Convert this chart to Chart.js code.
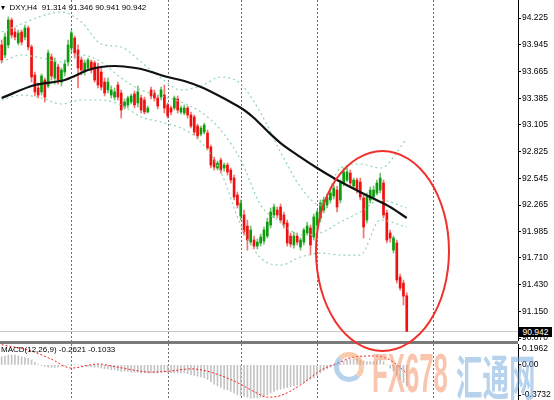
<!DOCTYPE html>
<html>
<head>
<meta charset="utf-8">
<script src="https://cdn.jsdelivr.net/npm/chart.js@4.4.0/dist/chart.umd.min.js"></script>
<style>
  body { margin: 0; width: 554px; height: 400px; overflow: hidden; background: #fff; position: relative; font-family: "Liberation Sans", Arial, sans-serif; }
  canvas { position: absolute; left: 0; }
  #main { top: 0; }
  #macd { top: 344px; }
  #panelSep { position: absolute; left: 0; top: 341px; width: 518px; height: 3px; background: #7a7a7a; }
  .txt { position: absolute; font-size: 8px; color: #000; white-space: nowrap; }
  #title { left: 1px; top: 3px; }
  #macdTitle { left: 1px; top: 345px; font-size: 8px; }
  #priceBox { position: absolute; left: 519px; top: 327px; width: 33px; height: 10px; background: #000; color: #fff; font-size: 8.5px; line-height: 10px; text-align: center; }
  #ellipse { position: absolute; left: 315px; top: 150px; width: 135px; height: 202px; border: 2.5px solid #f0302c; border-radius: 50%; box-sizing: border-box; }
  .wm { position: absolute; top: 340px; font-weight: bold; white-space: nowrap; transform-origin: 0 0; }
  #wmLogo { position: absolute; left: 334px; top: 352px; width: 30px; height: 30px; border-radius: 50%; border: 5px solid rgba(244,150,90,0.5); border-left-color: rgba(110,165,220,0.5); border-bottom-color: rgba(110,165,220,0.5); box-sizing: border-box; }
  #wmFx { left: 372px; font-size: 56px; color: rgba(245,140,95,0.5); transform: scale(0.46, 1); }
  #wmCn { left: 456px; top: 340px; font-size: 50px; color: rgba(110,165,220,0.5); font-family: "Noto Sans CJK SC", sans-serif; transform: scale(0.53, 0.95); }
</style>
</head>
<body>
<canvas id="main" width="554" height="341"></canvas>
<div id="panelSep"></div>
<canvas id="macd" width="554" height="56"></canvas>
<div id="title" class="txt">&#9662;&nbsp; DXY,H4&nbsp; 91.314 91.346 90.941 90.942</div>
<div id="macdTitle" class="txt">MACD(12,26,9) -0.2621 -0.1033</div>
<div id="priceBox">90.942</div>
<div id="ellipse"></div>
<div id="wmLogo"></div>
<div id="wmFx" class="wm">FX678</div>
<div id="wmCn" class="wm">汇通网</div>
<script>
// ---- data ----
const slotCount = 156; // candles + empty shift area on the right

const candleOpen = [93.943,93.838,93.943,94.204,94.078,93.964,94.078,94.026,94.120,93.922,
  93.628,93.492,93.450,93.575,93.513,93.817,93.596,93.712,93.554,93.659,
  93.764,93.911,94.015,93.890,93.785,93.659,93.701,93.764,93.754,93.712,
  93.659,93.554,93.471,93.418,93.397,93.523,93.439,93.293,93.314,93.345,
  93.429,93.335,93.387,93.366,93.240,93.471,93.439,93.387,93.397,93.418,
  93.314,93.282,93.282,93.376,93.240,93.230,93.282,93.209,93.188,93.093,
  93.009,93.030,93.020,92.873,92.737,92.653,92.737,92.653,92.684,92.632,
  92.548,92.370,92.150,92.161,92.045,91.877,91.898,91.835,91.867,91.888,
  91.940,92.055,92.161,92.213,92.244,92.161,92.077,91.940,91.846,91.940,
  91.825,91.877,91.972,92.024,91.930,92.055,92.129,92.213,92.265,92.318,
  92.360,92.422,92.318,92.496,92.527,92.600,92.464,92.527,92.506,92.339,
  92.108,92.318,92.349,92.391,92.422,92.496,92.182,91.972,91.793,91.867,
  91.510,91.447,91.314];
const candleHigh = [93.995,94.068,94.236,94.225,94.120,94.099,94.099,94.152,94.141,93.943,
  93.659,93.544,93.638,93.596,93.890,93.848,93.806,93.743,93.701,93.785,
  93.995,94.099,94.036,93.943,93.817,93.785,93.806,93.785,93.775,93.754,
  93.701,93.596,93.596,93.513,93.492,93.554,93.471,93.376,93.408,93.429,
  93.460,93.513,93.418,93.397,93.303,93.502,93.471,93.418,93.502,93.523,
  93.335,93.303,93.408,93.408,93.303,93.314,93.303,93.240,93.209,93.114,
  93.093,93.124,93.051,92.894,92.768,92.726,92.758,92.705,92.705,92.653,
  92.579,92.401,92.318,92.213,92.108,92.045,91.940,91.909,91.961,92.034,
  92.129,92.234,92.276,92.244,92.276,92.192,92.108,91.972,91.982,91.972,
  91.919,92.024,92.087,92.055,92.171,92.213,92.318,92.349,92.380,92.422,
  92.475,92.464,92.527,92.653,92.653,92.632,92.548,92.548,92.548,92.370,
  92.391,92.454,92.464,92.527,92.600,92.527,92.213,92.003,91.940,91.898,
  91.542,91.479,91.346];
const candleLow = [93.754,93.806,93.911,94.015,93.995,93.943,93.943,93.995,93.890,93.554,
  93.408,93.387,93.418,93.345,93.492,93.575,93.533,93.533,93.513,93.617,
  93.722,93.869,93.806,93.492,93.628,93.628,93.680,93.649,93.554,93.492,
  93.471,93.408,93.439,93.387,93.366,93.366,93.177,93.272,93.282,93.324,
  93.282,93.293,93.230,93.219,93.230,93.376,93.356,93.272,93.366,93.230,
  93.177,93.209,93.261,93.230,93.219,93.209,93.177,93.072,92.999,92.957,
  92.989,93.009,92.842,92.653,92.632,92.632,92.600,92.621,92.579,92.496,
  92.318,92.234,92.108,91.951,91.793,91.846,91.804,91.804,91.835,91.856,
  91.919,92.024,92.129,92.129,92.077,92.024,91.835,91.825,91.814,91.846,
  91.793,91.846,91.951,91.741,91.898,92.003,92.087,92.182,92.234,92.286,
  92.328,92.192,92.286,92.464,92.506,92.464,92.433,92.391,92.318,91.919,
  92.077,92.286,92.318,92.370,92.391,92.129,91.867,91.877,91.762,91.447,
  91.374,91.217,90.941];
const candleClose = [93.785,94.026,94.204,94.047,94.026,94.068,93.974,94.120,93.922,93.607,
  93.450,93.418,93.617,93.397,93.859,93.617,93.764,93.575,93.680,93.743,
  93.943,94.068,93.859,93.701,93.680,93.754,93.785,93.680,93.575,93.523,
  93.502,93.439,93.554,93.471,93.450,93.397,93.261,93.345,93.387,93.408,
  93.314,93.450,93.261,93.240,93.282,93.408,93.387,93.303,93.471,93.282,
  93.198,93.240,93.387,93.261,93.282,93.282,93.209,93.093,93.030,92.989,
  93.072,93.103,92.863,92.684,92.663,92.705,92.632,92.684,92.611,92.527,
  92.349,92.265,92.286,91.982,91.898,92.003,91.835,91.877,91.930,92.003,
  92.087,92.192,92.244,92.161,92.108,92.055,91.867,91.856,91.940,91.877,
  91.898,92.003,92.045,91.846,92.140,92.192,92.286,92.318,92.349,92.391,
  92.443,92.244,92.496,92.611,92.611,92.496,92.527,92.422,92.349,92.034,
  92.349,92.422,92.422,92.496,92.548,92.161,91.898,91.919,91.919,91.479,
  91.395,91.311,90.942];

// black moving average, read at these candle positions
const maIdx = [0, 10, 19, 22, 26, 30, 34, 38, 42, 50, 55, 60, 65, 70, 73, 76, 80, 84, 90, 95, 100, 105, 111, 117, 122];
const maVal = [93.387,93.523,93.575,93.617,93.680,93.712,93.722,93.712,93.691,93.607,93.565,93.502,93.418,93.324,93.261,93.177,93.041,92.915,92.768,92.653,92.548,92.454,92.349,92.244,92.129];

// bollinger bands (green dotted)
const bandIdx = [0, 6, 12, 18, 24, 30, 36, 42, 48, 54, 60, 66, 72, 78, 84, 90, 96, 102, 108, 114, 122];
const bandUpper = [94.078,94.162,94.246,94.288,94.183,93.953,93.921,93.764,93.596,93.471,93.513,93.607,93.534,93.230,92.821,92.454,92.265,92.653,92.695,92.653,92.957];
const bandMid = [93.764,93.838,93.806,93.764,93.838,93.764,93.596,93.471,93.408,93.345,93.240,93.051,92.737,92.265,92.087,91.951,91.972,92.087,92.192,92.318,92.234];
const bandLower = [93.366,93.418,93.387,93.324,93.366,93.366,93.313,93.188,93.135,93.072,92.926,92.611,92.055,91.710,91.636,91.720,91.762,91.741,91.741,92.108,92.034];

const priceTicks = [94.225, 93.945, 93.665, 93.385, 93.105, 92.825, 92.545, 92.265, 91.985, 91.710, 91.430, 91.150, 90.870];
const bidPrice = 90.942;
const separatorIdx = [21, 50, 72, 95, 130];

// MACD sub window
const macdHist = [0.10,0.11,0.12,0.12,0.12,0.11,0.10,0.09,0.08,0.06,
  0.03,0.01,-0.01,-0.02,-0.03,-0.03,-0.03,-0.03,-0.02,-0.01,
  0.00,0.01,0.01,0.00,-0.01,-0.01,-0.02,-0.02,-0.03,-0.03,
  -0.04,-0.05,-0.05,-0.06,-0.06,-0.07,-0.08,-0.08,-0.08,-0.09,
  -0.09,-0.09,-0.10,-0.10,-0.10,-0.10,-0.10,-0.10,-0.09,-0.09,
  -0.10,-0.10,-0.10,-0.10,-0.10,-0.10,-0.11,-0.12,-0.13,-0.14,
  -0.15,-0.16,-0.18,-0.21,-0.24,-0.26,-0.28,-0.30,-0.31,-0.33,
  -0.35,-0.37,-0.38,-0.39,-0.40,-0.41,-0.41,-0.41,-0.40,-0.39,
  -0.37,-0.35,-0.33,-0.31,-0.30,-0.29,-0.28,-0.27,-0.26,-0.25,
  -0.24,-0.22,-0.20,-0.18,-0.16,-0.13,-0.10,-0.07,-0.05,-0.03,
  -0.01,0.01,0.02,0.04,0.06,0.07,0.07,0.07,0.06,0.05,
  0.04,0.04,0.04,0.05,0.06,0.04,0.00,-0.04,-0.08,-0.13,
  -0.18,-0.22,-0.2621];
const signalIdx = [0, 9, 15, 21, 29, 35, 45, 50, 57, 62, 70, 76, 80, 84, 90, 96, 102, 106, 112, 117, 122];
const signalVal = [0.25,0.17,0.07,-0.04,0.01,-0.03,-0.09,-0.08,-0.05,-0.08,-0.20,-0.33,-0.40,-0.38,-0.25,-0.07,0.035,0.097,0.11,0.06,-0.1033];
const macdTicks = [0.1962, 0, -0.3732];
const macdTickLabels = ['0.1962', '0.00', '-0.3732'];

// ---- helpers ----
const slotLabels = Array.from({ length: slotCount }, (_, i) => i);
const up = candleClose.map((c, i) => c >= candleOpen[i]);
const bodyColor = up.map(u => u ? '#0c9c0c' : '#f01010');
const wickColor = up.map(u => u ? 'rgba(12,156,12,0.6)' : 'rgba(240,16,16,0.6)');
const pts = (idx, val) => idx.map((x, i) => ({ x: x, y: val[i] }));

const axisFont = { family: '"Liberation Sans", Arial, sans-serif', size: 8.5 };

// vertical dotted period separators, drawn in both windows
const separators = {
  id: 'separators',
  beforeDatasetsDraw(chart) {
    const ctx = chart.ctx, x = chart.scales.x, a = chart.chartArea;
    ctx.save();
    ctx.strokeStyle = '#6e6e6e';
    ctx.lineWidth = 1;
    ctx.setLineDash([2, 2]);
    separatorIdx.forEach(i => {
      const px = Math.round(x.getPixelForValue(i)) + 0.5;
      ctx.beginPath();
      ctx.moveTo(px, 0);
      ctx.lineTo(px, a.bottom);
      ctx.stroke();
    });
    ctx.restore();
  }
};

const bidLine = {
  id: 'bidLine',
  beforeDatasetsDraw(chart) {
    const ctx = chart.ctx, y = chart.scales.y, a = chart.chartArea;
    const py = Math.round(y.getPixelForValue(bidPrice)) + 0.5;
    ctx.save();
    ctx.strokeStyle = '#c8c8c8';
    ctx.lineWidth = 1;
    ctx.beginPath();
    ctx.moveTo(a.left, py);
    ctx.lineTo(a.right, py);
    ctx.stroke();
    ctx.restore();
  }
};

function rightAxis(min, max, ticks, fmt) {
  return {
    position: 'right',
    min: min,
    max: max,
    afterBuildTicks: s => { s.ticks = ticks.map(v => ({ value: v })); },
    afterFit: s => { s.width = 36; s.paddingTop = 0; s.paddingBottom = 0; },
    grid: { display: true, drawOnChartArea: false, drawTicks: true, tickLength: 3, color: '#000' },
    border: { display: true, color: '#000', width: 1 },
    ticks: { color: '#000', font: axisFont, padding: 1, callback: fmt, autoSkip: false, maxRotation: 0 }
  };
}

const xAxis = { type: 'category', display: false, offset: true, grid: { display: false } };

new Chart(document.getElementById('main'), {
  type: 'bar',
  data: {
    labels: slotLabels,
    datasets: [
      { type: 'line', data: pts(maIdx, maVal), borderColor: '#111', borderWidth: 2.2, pointRadius: 0, cubicInterpolationMode: 'monotone', order: 0 },
      { type: 'line', data: pts(bandIdx, bandUpper), borderColor: '#8fd6ad', borderWidth: 1.2, borderDash: [2, 3], pointRadius: 0, cubicInterpolationMode: 'monotone', order: 1 },
      { type: 'line', data: pts(bandIdx, bandMid), borderColor: '#8fd6ad', borderWidth: 1.2, borderDash: [2, 3], pointRadius: 0, cubicInterpolationMode: 'monotone', order: 1 },
      { type: 'line', data: pts(bandIdx, bandLower), borderColor: '#8fd6ad', borderWidth: 1.2, borderDash: [2, 3], pointRadius: 0, cubicInterpolationMode: 'monotone', order: 1 },
      { data: candleLow.map((l, i) => [l, candleHigh[i]]), backgroundColor: wickColor, barThickness: 1, grouped: false, order: 3 },
      { data: candleOpen.map((o, i) => [o, candleClose[i]]), backgroundColor: bodyColor, barThickness: 2, minBarLength: 1, grouped: false, order: 2 }
    ]
  },
  options: {
    responsive: false,
    animation: false,
    devicePixelRatio: 1,
    layout: { padding: 0 },
    plugins: { legend: { display: false }, tooltip: { enabled: false } },
    scales: {
      x: xAxis,
      y: rightAxis(90.840, 94.414, priceTicks, v => v.toFixed(3))
    }
  },
  plugins: [separators, bidLine]
});

new Chart(document.getElementById('macd'), {
  type: 'bar',
  data: {
    labels: slotLabels,
    datasets: [
      { type: 'line', data: pts(signalIdx, signalVal), borderColor: '#f02020', borderWidth: 1, borderDash: [2, 2], pointRadius: 0, cubicInterpolationMode: 'monotone', order: 0 },
      { data: macdHist, backgroundColor: '#c4c4c4', barThickness: 1, order: 1 }
    ]
  },
  options: {
    responsive: false,
    animation: false,
    devicePixelRatio: 1,
    layout: { padding: 0 },
    plugins: { legend: { display: false }, tooltip: { enabled: false } },
    scales: {
      x: xAxis,
      y: rightAxis(-0.435, 0.258, macdTicks, (v, i) => macdTickLabels[i])
    }
  },
  plugins: [separators]
});
</script>
</body>
</html>
